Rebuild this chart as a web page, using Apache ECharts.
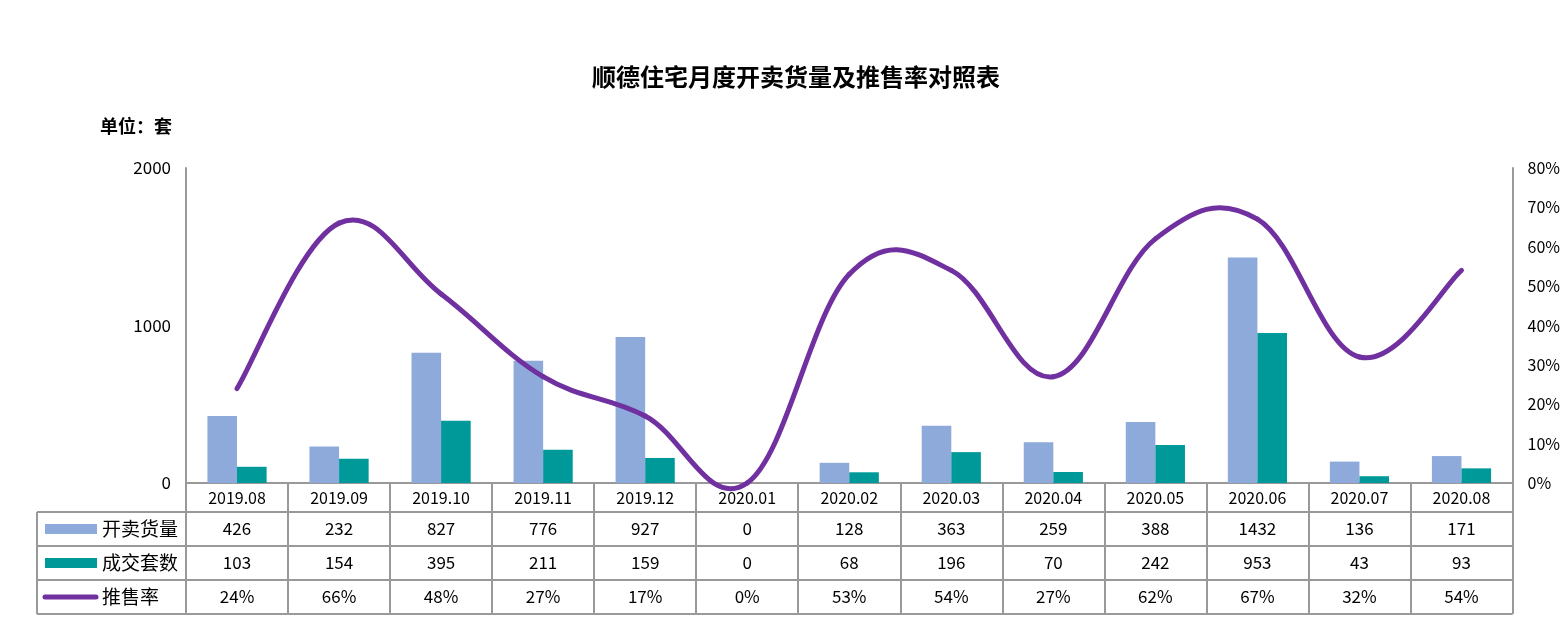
<!DOCTYPE html>
<html>
<head>
<meta charset="utf-8">
<script src="https://cdn.jsdelivr.net/npm/echarts@6/dist/echarts.min.js"></script>
<style>html,body{margin:0;padding:0;background:#fff}#c{width:1563px;height:639px}</style>
</head>
<body>
<div id="c"></div>
<script>
const categories = ['2019.08','2019.09','2019.10','2019.11','2019.12','2020.01','2020.02','2020.03','2020.04','2020.05','2020.06','2020.07','2020.08'];
const supply = [426,232,827,776,927,0,128,363,259,388,1432,136,171];
const deals = [103,154,395,211,159,0,68,196,70,242,953,43,93];
const rate = [24,66,48,27,17,0,53,54,27,62,67,32,54];
const seriesNames = ['开卖货量','成交套数','推售率'];
const colors = ['#8EAADB','#009999','#7030A0'];
const FONT = '"Noto Sans CJK SC", "Noto Sans", sans-serif';
const n = categories.length;
const TENSION = 0.19;

function renderSmooth(params, api) {
  const i = params.dataIndex;
  if (i >= n - 1) return null;
  const idx = k => Math.max(0, Math.min(n - 1, k));
  const p0 = api.coord([idx(i - 1), rate[idx(i - 1)]]);
  const p1 = api.coord([i, rate[i]]);
  const p2 = api.coord([i + 1, rate[i + 1]]);
  const p3 = api.coord([idx(i + 2), rate[idx(i + 2)]]);
  return {
    type: 'bezierCurve',
    shape: {
      x1: p1[0], y1: p1[1], x2: p2[0], y2: p2[1],
      cpx1: p1[0] + (p2[0] - p0[0]) * TENSION, cpy1: p1[1] + (p2[1] - p0[1]) * TENSION,
      cpx2: p2[0] - (p3[0] - p1[0]) * TENSION, cpy2: p2[1] - (p3[1] - p1[1]) * TENSION
    },
    style: {stroke: colors[2], lineWidth: 5, fill: null, lineCap: 'round'}
  };
}

const chart = echarts.init(document.getElementById('c'));
const option = {
  animation: false,
  backgroundColor: '#fff',
  title: {
    text: '顺德住宅月度开卖货量及推售率对照表',
    left: 791, top: 60, textAlign: 'center',
    textStyle: {fontFamily: FONT, fontSize: 24, fontWeight: 'bold', color: '#000'}
  },
  grid: {left: 186, right: 49, top: 168, bottom: 156},
  xAxis: {
    type: 'category', data: categories,
    axisLine: {lineStyle: {color: '#999', width: 2}},
    axisTick: {show: true, alignWithLabel: false, length: 131, lineStyle: {color: '#999', width: 2}},
    axisLabel: {margin: 7, fontFamily: FONT, fontSize: 16, color: '#000'}
  },
  yAxis: [{
    type: 'value', min: 0, max: 2000, interval: 1000,
    axisLine: {show: true, lineStyle: {color: '#999', width: 2}},
    axisTick: {show: false}, splitLine: {show: false},
    axisLabel: {margin: 15, formatter: v => String(v), fontFamily: FONT, fontSize: 17, color: '#000'}
  }, {
    type: 'value', min: 0, max: 80, interval: 10,
    axisLine: {show: true, lineStyle: {color: '#999', width: 2}},
    axisTick: {show: false}, splitLine: {show: false},
    axisLabel: {margin: 15, formatter: v => v + '%', fontFamily: FONT, fontSize: 16, color: '#000'}
  }],
  series: [
    {name: seriesNames[0], type: 'bar', data: supply, barWidth: '29%', barGap: '0%', itemStyle: {color: colors[0]}},
    {name: seriesNames[1], type: 'bar', data: deals, barWidth: '29%', barGap: '0%', itemStyle: {color: colors[1]}},
    {name: seriesNames[2], type: 'custom', yAxisIndex: 1, renderItem: renderSmooth,
     data: rate.map((v, i) => [i, v]), encode: {x: 0, y: 1}, z: 5, clip: false}
  ]
};
chart.setOption(option);

// Data table under the chart, built from the arrays and positioned from the axes.
const c0 = chart.convertToPixel({xAxisIndex: 0}, categories[0]);
const c1 = chart.convertToPixel({xAxisIndex: 0}, categories[1]);
const colW = c1 - c0;
const leftEdge = c0 - colW / 2;
const rightEdge = leftEdge + colW * n;
const y0 = chart.convertToPixel({yAxisIndex: 0}, 0);
const headerH = 29, rowH = 34;
const tableLeft = 37;
const rowsTop = y0 + headerH;
const rows = [
  supply.map(String),
  deals.map(String),
  rate.map(v => v + '%')
];
const lineStyle = {stroke: '#999', lineWidth: 2};
const g = [];
for (let r = 0; r <= rows.length; r++) {
  const y = rowsTop + r * rowH;
  g.push({type: 'line', shape: {x1: tableLeft, y1: y, x2: rightEdge, y2: y}, style: lineStyle, silent: true});
}
g.push({type: 'line', shape: {x1: tableLeft, y1: rowsTop, x2: tableLeft, y2: rowsTop + rows.length * rowH}, style: lineStyle, silent: true});
rows.forEach((row, r) => {
  const yc = rowsTop + r * rowH + rowH / 2;
  row.forEach((txt, i) => {
    const xc = chart.convertToPixel({xAxisIndex: 0}, categories[i]);
    g.push({type: 'text', x: xc, y: yc, silent: true,
      style: {text: txt, textAlign: 'center', textVerticalAlign: 'middle', font: '17px ' + FONT, fill: '#000'}});
  });
  if (r < 2) {
    g.push({type: 'rect', shape: {x: 45, y: yc - 5, width: 52, height: 10}, style: {fill: colors[r]}, silent: true});
  } else {
    g.push({type: 'line', shape: {x1: 45, y1: yc, x2: 96, y2: yc}, style: {stroke: colors[2], lineWidth: 5, lineCap: 'round'}, silent: true});
  }
  g.push({type: 'text', x: 102, y: yc, silent: true,
    style: {text: seriesNames[r], textAlign: 'left', textVerticalAlign: 'middle', font: '19px ' + FONT, fill: '#000'}});
});
g.push({type: 'text', x: 100, y: 126, silent: true,
  style: {text: '单位：套', textAlign: 'left', textVerticalAlign: 'middle', font: 'bold 18px ' + FONT, fill: '#000'}});
chart.setOption({graphic: g});
</script>
</body>
</html>
